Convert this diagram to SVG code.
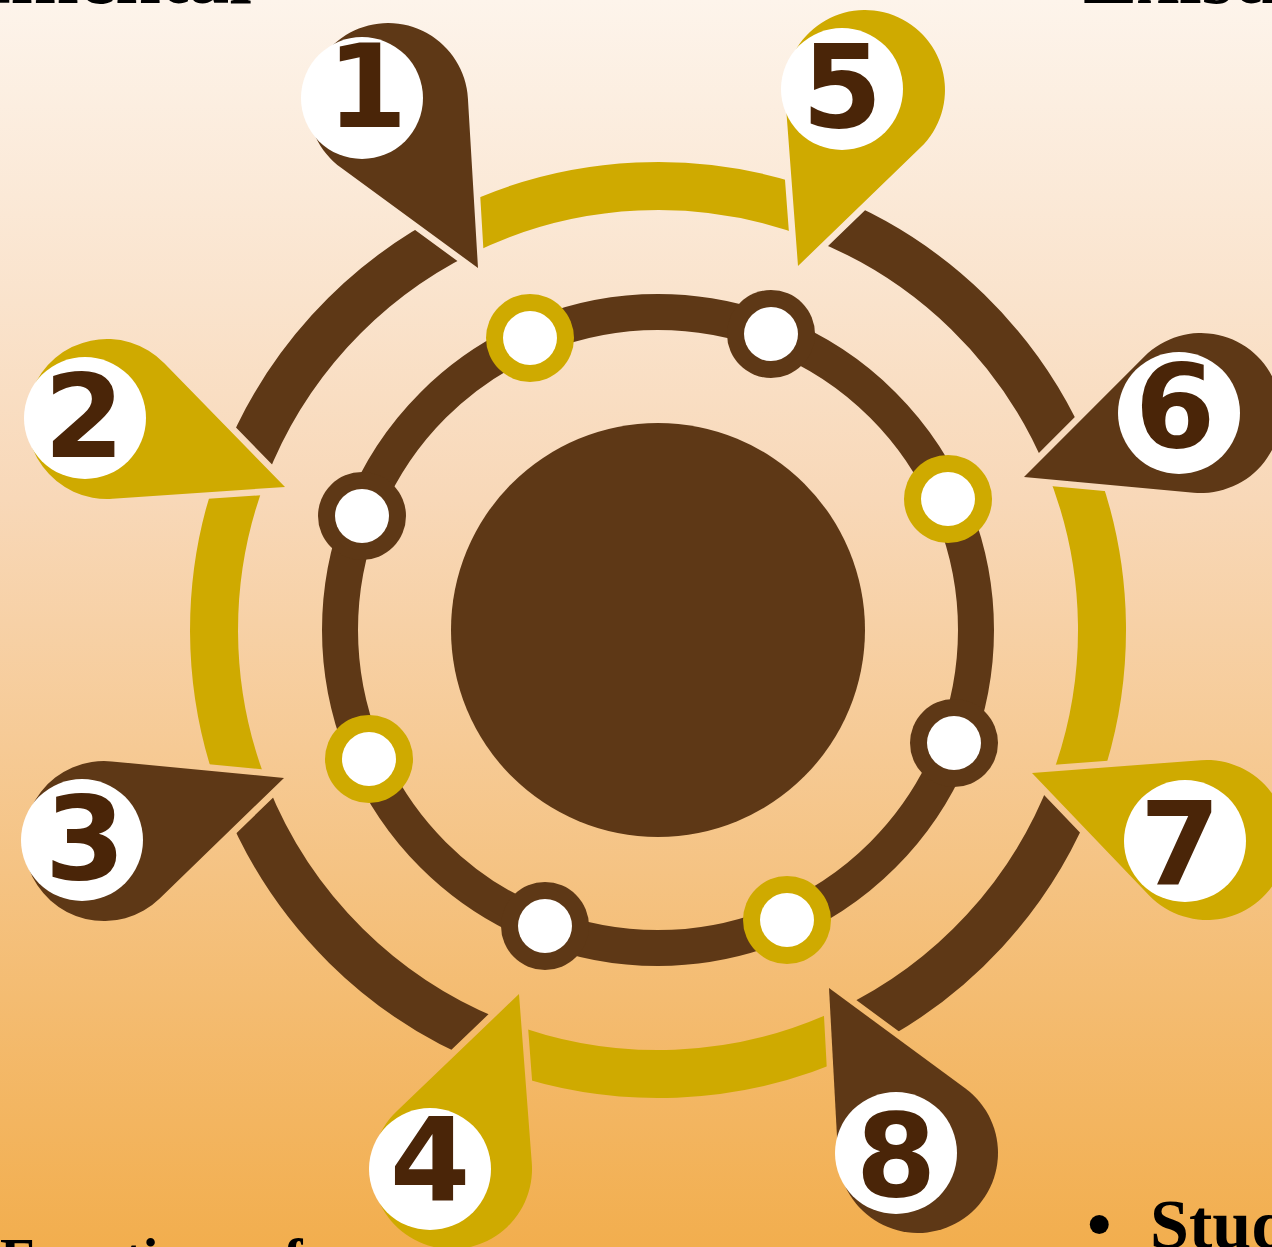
<svg xmlns="http://www.w3.org/2000/svg" width="1272" height="1247" viewBox="0 0 1272 1247">
<defs>
<linearGradient id="bg" gradientUnits="userSpaceOnUse" x1="0" y1="0" x2="0" y2="1247">
<stop offset="0" stop-color="#fdf4eb"/>
<stop offset="0.4" stop-color="#f8d8b8"/>
<stop offset="1" stop-color="#f2ae4e"/>
</linearGradient>
<style>
.br{fill:#5e3816}
.ye{fill:#cfaa00}
.pin{stroke:url(#bg);stroke-width:13;stroke-linejoin:round;paint-order:stroke}
.wh{fill:#ffffff}
.num{font-family:"DejaVu Sans",sans-serif;font-weight:bold;font-size:116px;fill:#4a2508;text-anchor:middle}
.seg{fill:none;stroke-width:48}
.sb{stroke:#5e3816}
.sy{stroke:#cfaa00}
.lbl{font-family:"Liberation Serif","Times New Roman",serif;font-weight:bold;font-size:57px;fill:#000000}
.big{font-size:70px}
.head{font-size:82px}
</style>
</defs>
<rect x="0" y="0" width="1272" height="1247" fill="url(#bg)"/>
<g id="texts">
<text class="lbl head" x="252" y="3" text-anchor="end">Fundamental</text>
<text class="lbl head" x="1083" y="3">Existing</text>
<text class="lbl" x="0" y="1278">Functions of</text>
<text class="lbl big" x="1087" y="1248">•</text>
<text class="lbl big" x="1150" y="1248">Students</text>
</g>
<g id="connectors">
<path class="seg sy" d="M 460.6 232.3 A 444 444 0 0 1 817.1 215.5"/>
<path class="seg sb" d="M 817.1 215.5 A 444 444 0 0 1 1068.2 460.1"/>
<path class="seg sy" d="M 1068.2 460.1 A 444 444 0 0 1 1072.8 788.4"/>
<path class="seg sb" d="M 1072.8 788.4 A 444 444 0 0 1 849.1 1030.8"/>
<path class="seg sy" d="M 849.1 1030.8 A 444 444 0 0 1 499.6 1044.8"/>
<path class="seg sb" d="M 499.6 1044.8 A 444 444 0 0 1 245.2 793.4"/>
<path class="seg sy" d="M 245.2 793.4 A 444 444 0 0 1 243.5 470.9"/>
<path class="seg sb" d="M 243.5 470.9 A 444 444 0 0 1 460.6 232.3"/>
<circle cx="658" cy="630" r="318" fill="none" stroke="#5e3816" stroke-width="36"/>
</g>
<g id="center">
<circle class="br" cx="658" cy="630" r="207"/>
</g>
<g id="dots">
<circle class="ye" cx="530" cy="338" r="44"/><circle class="wh" cx="530" cy="338" r="27"/>
<circle class="br" cx="771" cy="334" r="44"/><circle class="wh" cx="771" cy="334" r="27"/>
<circle class="ye" cx="948" cy="499" r="44"/><circle class="wh" cx="948" cy="499" r="27"/>
<circle class="br" cx="954" cy="743" r="44"/><circle class="wh" cx="954" cy="743" r="27"/>
<circle class="ye" cx="787" cy="920" r="44"/><circle class="wh" cx="787" cy="920" r="27"/>
<circle class="br" cx="545" cy="926" r="44"/><circle class="wh" cx="545" cy="926" r="27"/>
<circle class="ye" cx="369" cy="759" r="44"/><circle class="wh" cx="369" cy="759" r="27"/>
<circle class="br" cx="362" cy="516" r="44"/><circle class="wh" cx="362" cy="516" r="27"/>
</g>
<g id="pin1">
<path class="br pin" d="M 478 268 L 467.9 98.3 A 80 80 0 1 0 340.8 167.6 Z"/>
<circle class="wh" cx="362" cy="98" r="61"/>
<text class="num" x="367" y="127">1</text>
</g>
<g id="pin2">
<path class="ye pin" d="M 285 487 L 164.3 363.2 A 80 80 0 1 0 112.5 498.8 Z"/>
<circle class="wh" cx="85" cy="418" r="61"/>
<text class="num" x="84" y="457">2</text>
</g>
<g id="pin3">
<path class="br pin" d="M 284 778 L 111.7 761.4 A 80 80 0 1 0 159.7 898.4 Z"/>
<circle class="wh" cx="82" cy="840" r="61"/>
<text class="num" x="85" y="879">3</text>
</g>
<g id="pin4">
<path class="ye pin" d="M 519 994 L 396.7 1111.2 A 80 80 0 1 0 531.8 1163 Z"/>
<circle class="wh" cx="430" cy="1169" r="61"/>
<text class="num" x="430" y="1200">4</text>
</g>
<g id="pin5">
<path class="ye pin" d="M 798 266 L 920.5 147.6 A 80 80 0 1 0 785.2 96.1 Z"/>
<circle class="wh" cx="842" cy="89" r="61"/>
<text class="num" x="842" y="127">5</text>
</g>
<g id="pin6">
<path class="br pin" d="M 1024 477 L 1193.7 492.7 A 80 80 0 1 0 1144.4 356.5 Z"/>
<circle class="wh" cx="1179" cy="413" r="61"/>
<text class="num" x="1175" y="447">6</text>
</g>
<g id="pin7">
<path class="ye pin" d="M 1032 773 L 1149.2 895.4 A 80 80 0 1 0 1201 760.2 Z"/>
<circle class="wh" cx="1185" cy="841" r="61"/>
<text class="num" x="1180" y="885">7</text>
</g>
<g id="pin8">
<path class="br pin" d="M 829 988 L 838.1 1157.3 A 80 80 0 1 0 965.5 1088.6 Z"/>
<circle class="wh" cx="896" cy="1153" r="61"/>
<text class="num" x="896" y="1196">8</text>
</g>
</svg>
